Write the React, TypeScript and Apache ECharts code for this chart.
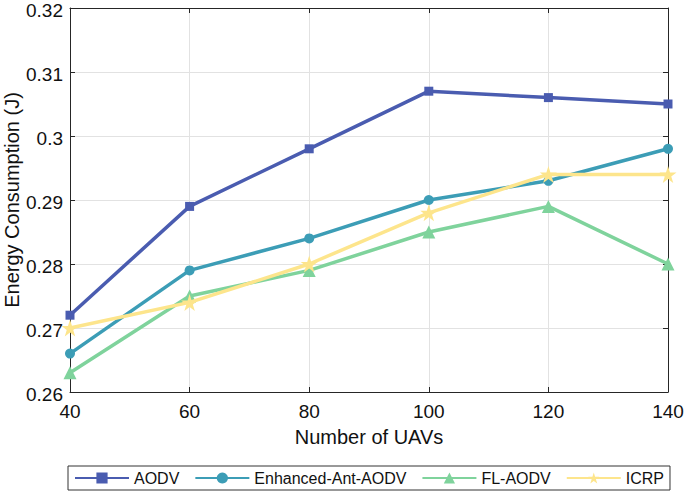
import React, { useEffect, useRef } from "react";
import * as echarts from "echarts";

const uavCounts = [40, 60, 80, 100, 120, 140];
const aodv = [0.272, 0.289, 0.298, 0.307, 0.306, 0.305];
const enhancedAntAodv = [0.266, 0.279, 0.284, 0.29, 0.293, 0.298];
const flAodv = [0.263, 0.275, 0.279, 0.285, 0.289, 0.28];
const icrp = [0.27, 0.274, 0.28, 0.288, 0.294, 0.294];
const seriesNames = ["AODV", "Enhanced-Ant-AODV", "FL-AODV", "ICRP"];

const STAR =
  "path://M50,0 L61.2,34.5 L97.6,34.5 L68.2,55.9 L79.4,90.5 L50,69.1 L20.6,90.5 L31.8,55.9 L2.4,34.5 L38.8,34.5 Z";

const FONT = "'Liberation Sans', Arial, Helvetica, sans-serif";

export default function App() {
  const ref = useRef<HTMLDivElement>(null);
  useEffect(() => {
    if (!ref.current) return;
    const chart = echarts.init(ref.current, undefined, { renderer: "svg" });
    const pairs = (ys: number[]) => uavCounts.map((x, i) => [x, ys[i]]);
    const colors = ["#4a5cb0", "#3c9db6", "#7fd39c", "#fde58c"];
    const defs = [
      { data: aodv, symbol: "rect", size: 9 },
      { data: enhancedAntAodv, symbol: "circle", size: 10 },
      { data: flAodv, symbol: "triangle", size: 13 },
      { data: icrp, symbol: STAR, size: 17 },
    ];
    const axisLineStyle = { color: "#262626", width: 1 };
    chart.setOption({
      animation: false,
      textStyle: { fontFamily: FONT },
      grid: { left: 70, right: 17, top: 8, bottom: 103, containLabel: false, outerBoundsMode: "none" },
      legend: {
        left: 68,
        top: 466,
        orient: "horizontal",
        itemWidth: 54,
        itemHeight: 14,
        itemGap: 15,
        padding: [4, 6, 4, 6],
        borderColor: "#333",
        borderWidth: 1,
        backgroundColor: "#fff",
        textStyle: { fontSize: 16, color: "#111", fontFamily: FONT },
        data: seriesNames,
      },
      xAxis: [
        {
          type: "value",
          min: 40,
          max: 140,
          interval: 20,
          name: "Number of UAVs",
          nameLocation: "middle",
          nameGap: 35,
          nameTextStyle: { fontSize: 20, color: "#111", fontFamily: FONT },
          axisLine: { show: true, lineStyle: axisLineStyle },
          axisTick: { show: true, inside: true, length: 5, lineStyle: axisLineStyle },
          axisLabel: { fontSize: 19, color: "#111", margin: 10, fontFamily: FONT },
          splitLine: { show: true, lineStyle: { color: "#e2e2e2", width: 1 } },
        },
        {
          type: "value",
          position: "top",
          min: 40,
          max: 140,
          interval: 20,
          axisLine: { show: true, lineStyle: axisLineStyle },
          axisTick: { show: true, inside: true, length: 5, lineStyle: axisLineStyle },
          axisLabel: { show: false },
          splitLine: { show: false },
        },
      ],
      yAxis: [
        {
          type: "value",
          min: 0.26,
          max: 0.32,
          interval: 0.01,
          name: "Energy Consumption (J)",
          nameLocation: "middle",
          nameGap: 48,
          nameMoveOverlap: false,
          nameTextStyle: { fontSize: 20, lineHeight: 20, color: "#111", fontFamily: FONT },
          axisLine: { show: true, lineStyle: axisLineStyle },
          axisTick: { show: true, inside: true, length: 5, lineStyle: axisLineStyle },
          axisLabel: {
            fontSize: 19,
            color: "#111",
            margin: 7,
            verticalAlign: "top",
            lineHeight: 4,
            fontFamily: FONT,
            formatter: (v: number) => String(+v.toFixed(2)),
          },
          splitLine: { show: true, lineStyle: { color: "#e2e2e2", width: 1 } },
        },
        {
          type: "value",
          position: "right",
          min: 0.26,
          max: 0.32,
          interval: 0.01,
          axisLine: { show: true, lineStyle: axisLineStyle },
          axisTick: { show: true, inside: true, length: 5, lineStyle: axisLineStyle },
          axisLabel: { show: false },
          splitLine: { show: false },
        },
      ],
      series: defs.map((d, i) => ({
        name: seriesNames[i],
        type: "line",
        data: pairs(d.data),
        color: colors[i],
        symbol: d.symbol,
        symbolSize: d.size,
        showAllSymbol: true,
        lineStyle: { color: colors[i], width: 3.5 },
        itemStyle: { color: colors[i], borderWidth: 0 },
        z: 2 + i,
      })),
    });
    return () => chart.dispose();
  }, []);
  return <div ref={ref} style={{ width: 685, height: 495, position: "absolute", left: 0, top: 0, background: "#fff" }} />;
}
